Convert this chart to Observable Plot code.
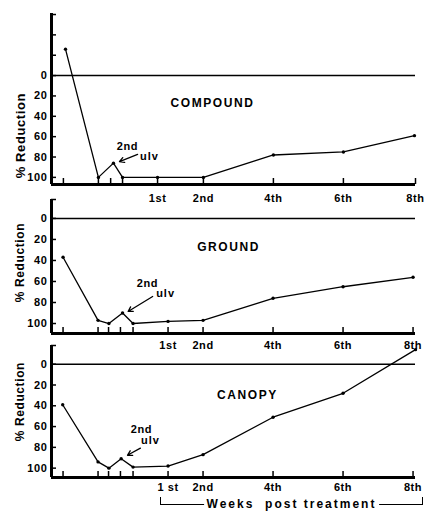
<!DOCTYPE html>
<html><head><meta charset="utf-8">
<script src="https://cdn.jsdelivr.net/npm/d3@7"></script>
<script src="https://cdn.jsdelivr.net/npm/@observablehq/plot@0.6"></script>
<style>
body{margin:0;background:#fff;}
#chart{position:relative;width:427px;height:511px;background:#fff;overflow:hidden;font-family:"Liberation Sans",Arial,sans-serif;}
#chart svg{position:absolute;left:0;top:0;}
#bracket{position:absolute;left:160px;top:497px;width:261px;height:7px;border-left:1.5px solid #000;border-right:1.5px solid #000;border-bottom:1.5px solid #000;}
#bracket span{position:absolute;left:50%;top:0px;transform:translateX(-50%);background:#fff;padding:0 3px;font-weight:bold;font-size:12px;letter-spacing:2px;white-space:nowrap;line-height:14px;}
</style></head>
<body>
<div id="chart"><div id="bracket"><span>Weeks&nbsp; post treatment</span></div></div>
<script>
// ---- data (weeks relative to treatment; % reduction, negative = increase) ----
const weeksCompound = [-1.93, -0.99, -0.56, -0.3, 0.7, 2.01, 4.01, 6.01, 8.04];
const reductionCompound = [-26, 100, 86, 100, 100, 100, 78, 75, 59];
const weeksGround = [-2, -1, -0.69, -0.3, 0, 1, 2, 4, 6, 8];
const reductionGround = [37, 97, 100, 90, 100, 98, 97, 76, 65, 56];
const weeksCanopy = [-2.01, -1, -0.69, -0.34, 0, 1, 2, 4, 6, 8.07];
const reductionCanopy = [39, 94, 100, 91, 99, 98, 87, 51, 28, -14];

const xTicksCompound = [-1.99, -0.99, -0.64, -0.3, 0.7, 2.01, 4.01, 6.01, 8.07];
const xTicks = [-2, -1, -0.7, -0.36, 0, 1, 2, 4, 6, 8];
const weekLabelPosCompound = [0.7, 2.01, 4.01, 6.01, 8.07];
const weekLabelPos = [1, 2, 4, 6, 8];
const weekLabels = ["1st", "2nd", "4th", "6th", "8th"];
const weekLabelsCanopy = ["1 st", "2nd", "4th", "6th", "8th"];

const yTicksCompound = [-60, -40, -20, 0, 20, 40, 60, 80, 100];
const yTicksOther = [-18, 0, 20, 40, 60, 80, 100];
const yLabels = [0, 20, 40, 60, 80, 100];

const panelNames = ["COMPOUND", "GROUND", "CANOPY"];
const namePos = [[2.27, 27.5], [2.73, 27.6], [3.27, 29.8]];
const axisTitle = "% Reduction";
const axisTitleY = [59, 42, 36];
const annot2nd = [[-0.16, 69.6], [0.41, 61.9], [0.24, 62.5]];
const annotUlv = [[0.47, 79.4], [0.93, 71.4], [0.5, 73]];
const arrows = [
  {x1: 0.13, y1: 77.5, x2: -0.44, y2: 85.3},
  {x1: 0.56, y1: 74.3, x2: -0.19, y2: 89.5},
  {x1: 0.21, y1: 80.8, x2: -0.21, y2: 88.5}
];

// ---- layout ----
const W = 427, H = 511, ML = 51, MR = 12;
const X_DOMAIN = [-2.33, 8.07];
const FONT = '"Liberation Sans", Arial, Helvetica, sans-serif';

const panels = [
  {weeks: weeksCompound, values: reductionCompound, xt: xTicksCompound, yt: yTicksCompound,
   labPos: weekLabelPosCompound, labs: weekLabels, yDomain: [-61, 107], top: 13, bottom: 184, labDy: 10, titleSize: 13},
  {weeks: weeksGround, values: reductionGround, xt: xTicks, yt: yTicksOther,
   labPos: weekLabelPos, labs: weekLabels, yDomain: [-18, 109.5], top: 199, bottom: 333, labDy: 8, titleSize: 12},
  {weeks: weeksCanopy, values: reductionCanopy, xt: xTicks, yt: yTicksOther,
   labPos: weekLabelPos, labs: weekLabelsCanopy, yDomain: [-18, 109], top: 345, bottom: 477, labDy: 6, titleSize: 12}
];

const chart = document.getElementById("chart");
panels.forEach((p, k) => {
  const [yTop, yBot] = p.yDomain;
  const pxPerUnit = (p.bottom - p.top) / (yBot - yTop);
  const pxPerWeek = (W - ML - MR) / (X_DOMAIN[1] - X_DOMAIN[0]);
  const series = p.weeks.map((w, i) => ({w, v: p.values[i]}));
  const labs = p.labPos.map((w, i) => ({w, t: p.labs[i]}));
  const svg = Plot.plot({
    width: W, height: H,
    marginLeft: ML, marginRight: MR, marginTop: p.top, marginBottom: H - p.bottom,
    x: {domain: X_DOMAIN, axis: null},
    y: {domain: p.yDomain, reverse: true, axis: null},
    style: {background: "transparent", fontFamily: FONT, fontWeight: "bold", fontSize: "11px", color: "#000", overflow: "visible"},
    marks: [
      // zero line
      Plot.ruleY([0], {x1: () => X_DOMAIN[0], x2: () => X_DOMAIN[1], stroke: "#000", strokeWidth: 1.5}),
      // y ticks (pointing inward)
      Plot.ruleY(p.yt, {y: d => d, x1: () => X_DOMAIN[0], x2: () => X_DOMAIN[0] + 5 / pxPerWeek, stroke: "#000", strokeWidth: 1.5}),
      // x ticks (pointing inward)
      Plot.ruleX(p.xt, {x: d => d, y1: () => yBot, y2: () => yBot - 6 / pxPerUnit, stroke: "#000", strokeWidth: 1.5}),
      // axis lines
      Plot.ruleX([X_DOMAIN[0]], {y1: () => yTop, y2: () => yBot, stroke: "#000", strokeWidth: 3}),
      Plot.ruleY([yBot], {x1: () => X_DOMAIN[0], x2: () => X_DOMAIN[1], stroke: "#000", strokeWidth: 3}),
      // y tick labels
      Plot.text(yLabels, {x: () => X_DOMAIN[0], y: d => d, text: d => String(d), textAnchor: "end", dx: -4, fontSize: 11, fill: "#000"}),
      // x labels
      Plot.text(labs, {x: "w", text: "t", frameAnchor: "bottom", lineAnchor: "top", dy: p.labDy, fontSize: 11, fill: "#000"}),
      // data
      Plot.line(series, {x: "w", y: "v", stroke: "#000", strokeWidth: 1.3}),
      Plot.dot(series, {x: "w", y: "v", r: 1.7, fill: "#000"}),
      // panel name
      Plot.text([panelNames[k]], {x: () => namePos[k][0], y: () => namePos[k][1], text: d => d, fontSize: 12, fill: "#000"}),
      // axis title
      Plot.text([axisTitle], {x: () => X_DOMAIN[0], y: () => axisTitleY[k], text: d => d, rotate: -90, dx: -31, fontSize: p.titleSize, fill: "#000"}),
      // 2nd ulv annotation
      Plot.text(["2nd"], {x: () => annot2nd[k][0], y: () => annot2nd[k][1], text: d => d, fontSize: 11, fill: "#000"}),
      Plot.text(["ulv"], {x: () => annotUlv[k][0], y: () => annotUlv[k][1], text: d => d, fontSize: 11, fill: "#000"}),
      Plot.arrow([arrows[k]], {x1: "x1", y1: "y1", x2: "x2", y2: "y2", stroke: "#000", strokeWidth: 1.3, headLength: 6, insetEnd: 2})
    ]
  });
  d3.select(svg).selectAll("text").each(function () {
    const t = this.textContent;
    if (panelNames.includes(t)) this.setAttribute("letter-spacing", "1.6px");
    else if (t === "ulv") this.setAttribute("letter-spacing", "1px");
    else this.setAttribute("letter-spacing", "0.6px");
  });
  chart.appendChild(svg);
});
</script>
</body></html>
